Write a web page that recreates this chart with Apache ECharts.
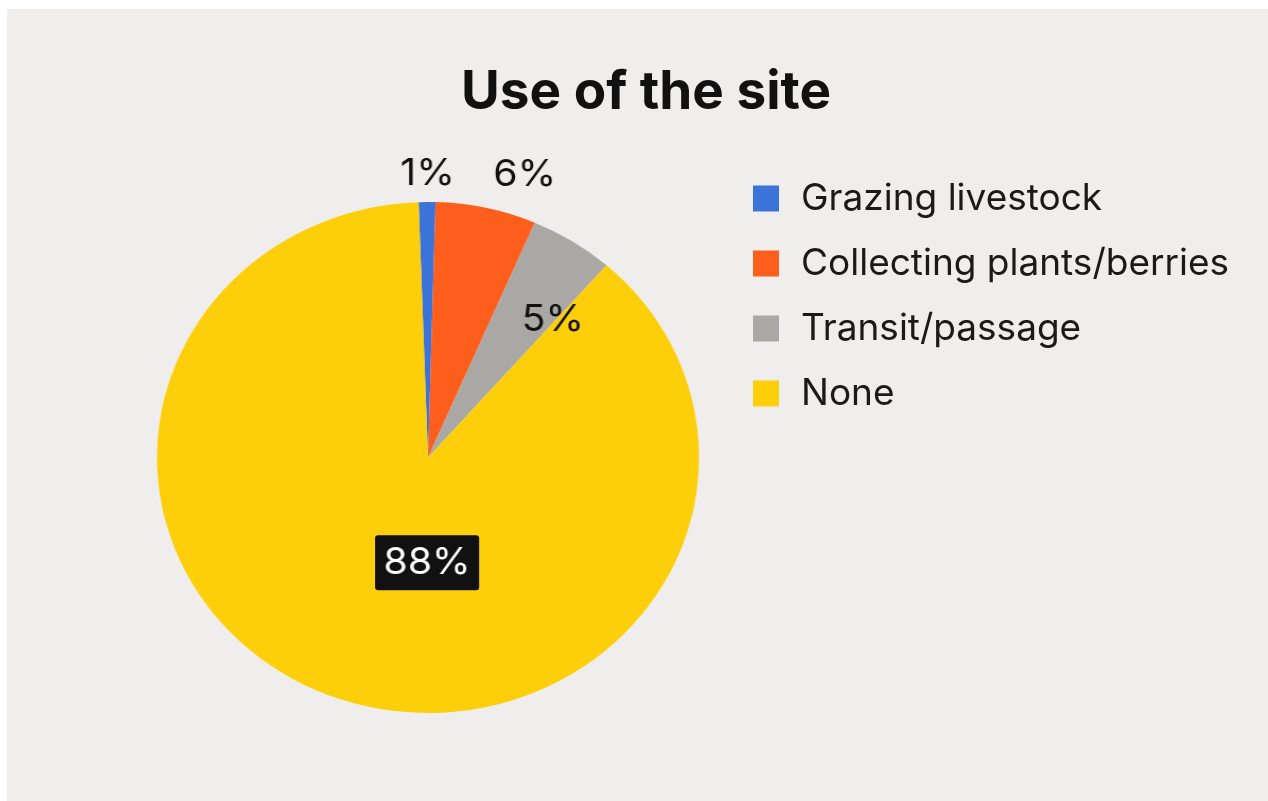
<!DOCTYPE html>
<html>
<head>
<meta charset="utf-8">
<title>Use of the site</title>
<script src="https://cdn.jsdelivr.net/npm/echarts@6/dist/echarts.min.js"></script>
<style>
  html, body { margin: 0; padding: 0; background: #ffffff; }
  body { width: 1268px; height: 801px; position: relative; overflow: hidden; }
  #base { position: absolute; left: 7px; top: 9px; width: 1261px; height: 792px; background: #efeeec; }
  /* pie layer: stretched slightly wider than tall */
  #pie { position: absolute; left: 0; top: 0; width: 1268px; height: 801px;
         transform-origin: 428px 457.5px; transform: scaleX(1.0607); pointer-events: none; }
</style>
</head>
<body>
<div id="base"></div>
<div id="pie"></div>
<script>
// Site use categories and their shares (percent)
const categories = ['Grazing livestock', 'Collecting plants/berries', 'Transit/passage', 'None'];
const shares = [1, 6, 5, 88];
const sliceColors = ['#3b73d9', '#fe5e1b', '#aaa8a5', '#fdcf0b'];

// Offsets of each value label from its default in-slice spot
const labelShift = [
  { dx: 0, dy: -153 },
  { dx: 63, dy: -155 },
  { dx: 48, dy: -27 },
  { dx: 43, dy: -18 }
];

const FONT = 'Inter, "Liberation Sans", Arial, sans-serif';

const pieData = categories.map((name, i) => ({
  name: name,
  value: shares[i],
  itemStyle: { color: sliceColors[i] }
}));

// Title and legend layer
const baseChart = echarts.init(document.getElementById('base'), null, { renderer: 'canvas' });
baseChart.setOption({
  animation: false,
  backgroundColor: '#efeeec',
  title: {
    text: 'Use of the site',
    left: 634,
    top: 53,
    textAlign: 'center',
    textStyle: { fontFamily: FONT, fontSize: 53, fontWeight: 700, color: '#111111' }
  },
  legend: {
    orient: 'vertical',
    left: 741,
    top: 166,
    itemWidth: 26,
    itemHeight: 26,
    itemGap: 28,
    icon: 'rect',
    selectedMode: false,
    textStyle: { fontFamily: FONT, fontSize: 37, color: '#1a1a1a', padding: [0, 0, 0, 17] },
    data: categories
  },
  series: [{
    type: 'pie',
    radius: 0,
    silent: true,
    label: { show: false },
    labelLine: { show: false },
    data: pieData
  }]
});

// Pie layer
const pieChart = echarts.init(document.getElementById('pie'), null, { renderer: 'canvas' });
pieChart.setOption({
  animation: false,
  series: [{
    type: 'pie',
    center: [428, 457.5],
    radius: 255.5,
    startAngle: 92,
    clockwise: true,
    silent: true,
    avoidLabelOverlap: false,
    itemStyle: { borderWidth: 0 },
    label: {
      show: true,
      position: 'inside',
      formatter: '{c}%',
      fontFamily: FONT,
      fontSize: 37,
      color: '#111111'
    },
    labelLine: { show: false },
    labelLayout: function (params) {
      return labelShift[params.dataIndex];
    },
    data: pieData.map((d, i) => i === 3 ? Object.assign({}, d, {
      label: {
        color: '#ffffff',
        backgroundColor: '#111111',
        borderRadius: 3,
        padding: [9, 8, 9, 8]
      }
    }) : d)
  }]
});
</script>
</body>
</html>
